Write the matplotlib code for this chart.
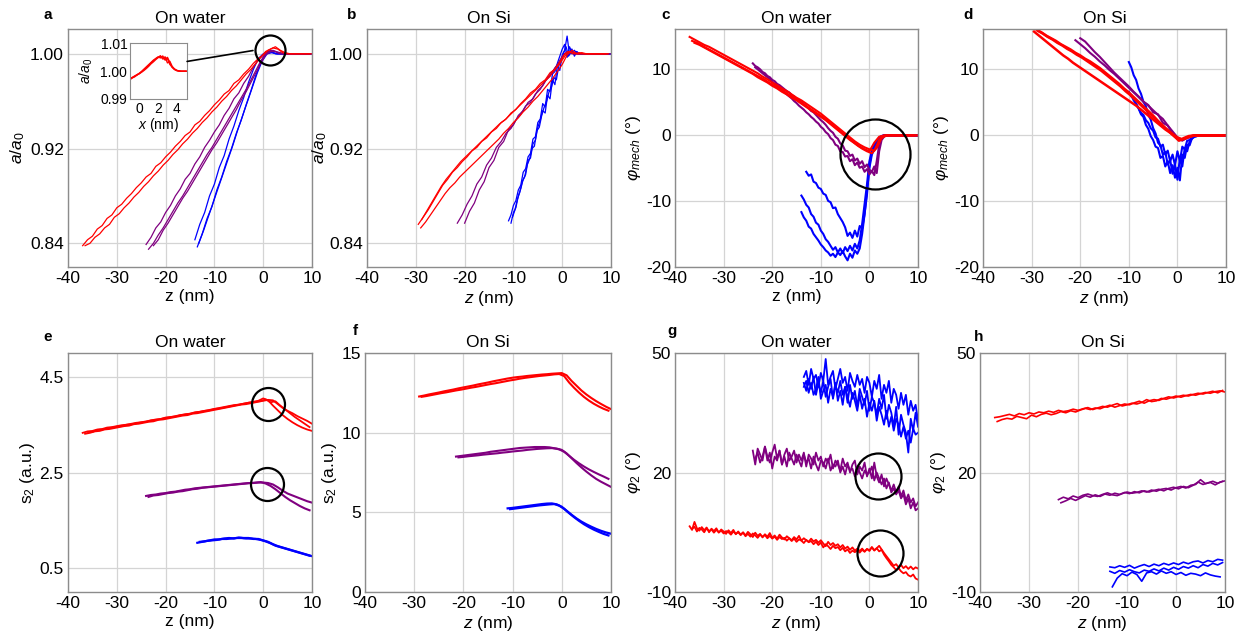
import numpy as np
import matplotlib
matplotlib.use('Agg')
import matplotlib.pyplot as plt
from matplotlib.patches import ConnectionPatch
from matplotlib.ticker import FormatStrFormatter

plt.rcParams['font.family'] = ['Liberation Sans', 'DejaVu Sans']
plt.rcParams['mathtext.fontset'] = 'custom'
plt.rcParams['mathtext.rm'] = 'Liberation Sans'
plt.rcParams['mathtext.it'] = 'Liberation Sans:italic'
plt.rcParams['axes.unicode_minus'] = False

RED = '#ff0000'
PURPLE = '#800080'
BLUE = '#0000ff'

# each trace: (z start, z step)

# a: a/a0 on water
a_red = [
    (-37.0, 1.0, [0.838,0.843,0.846,0.852,0.855,0.861,0.864,0.870,0.873,0.878,
                  0.882,0.887,0.891,0.896,0.899,0.905,0.908,0.913,0.917,0.922,
                  0.926,0.931,0.934,0.940,0.943,0.948,0.952,0.957,0.961,0.966,
                  0.969,0.975,0.978,0.983,0.987,0.992,0.996,0.999,1.003,1.005,
                  1.004,1.001,1.000,1.000,1.000,1.000,1.000,1.000]),
    (-36.5, 1.0, [0.838,0.840,0.845,0.848,0.853,0.856,0.862,0.865,0.870,0.874,
                  0.879,0.883,0.888,0.892,0.897,0.901,0.906,0.910,0.915,0.919,
                  0.924,0.928,0.933,0.937,0.942,0.946,0.951,0.955,0.960,0.964,
                  0.969,0.973,0.978,0.983,0.987,0.992,0.997,1.002,1.004,1.006,
                  1.003,1.001,1.000,1.000,1.000,1.000,1.000]),
]
a_purple = [
    (-24.0, 1.0, [0.839,0.845,0.853,0.858,0.866,0.872,0.880,0.886,0.894,0.899,
                  0.907,0.913,0.921,0.927,0.934,0.940,0.948,0.954,0.962,0.967,
                  0.975,0.981,0.989,0.995,0.999,1.002,1.003,1.001,1.000,1.000,
                  1.000,1.000,1.000,1.000,1.000]),
    (-23.5, 1.0, [0.835,0.840,0.847,0.853,0.860,0.867,0.874,0.880,0.887,0.894,
                  0.901,0.908,0.915,0.921,0.928,0.935,0.942,0.949,0.956,0.963,
                  0.970,0.978,0.986,0.994,1.000,1.003,1.002,1.000,1.000,1.000,
                  1.000,1.000,1.000,1.000]),
    (-22.5, 1.0, [0.838,0.843,0.851,0.857,0.864,0.871,0.878,0.884,0.891,0.898,
                  0.905,0.912,0.919,0.925,0.932,0.939,0.946,0.953,0.961,0.968,
                  0.976,0.984,0.992,0.999,1.002,1.002,1.001,1.000,1.000,1.000,
                  1.000,1.000,1.000]),
]
a_blue = [
    (-14.0, 1.0, [0.843,0.856,0.866,0.880,0.890,0.904,0.914,0.928,0.939,0.952,
                  0.963,0.976,0.987,0.996,1.000,1.002,1.001,1.000,1.000,1.000,
                  1.000,1.000,1.000,1.000,1.000]),
    (-13.5, 1.0, [0.837,0.848,0.861,0.871,0.885,0.896,0.909,0.920,0.933,0.944,
                  0.957,0.969,0.982,0.993,1.001,1.002,1.000,1.000,1.000,1.000,
                  1.000,1.000,1.000,1.000]),
    (-13.2, 1.0, [0.840,0.851,0.863,0.875,0.887,0.899,0.911,0.923,0.936,0.948,
                  0.960,0.972,0.984,0.994,1.000,1.001,1.000,1.000,1.000,1.000,
                  1.000,1.000,1.000,1.000]),
]
inset_red = [
    (-1.0, 0.25, [0.9972,0.9977,0.9982,0.9986,0.9992,0.9998,1.0006,1.0014,1.0022,1.0030,
                  1.0038,1.0046,1.0052,1.0048,1.0055,1.0040,1.0046,1.0025,1.0015,1.0008,
                  1.0003,1.0001,1.0000,1.0000,1.0000]),
    (-1.0, 0.25, [0.9970,0.9976,0.9980,0.9987,0.9993,1.0000,1.0008,1.0016,1.0024,1.0032,
                  1.0040,1.0045,1.0050,1.0056,1.0044,1.0052,1.0030,1.0036,1.0018,1.0008,
                  1.0003,1.0001,1.0000,1.0000,1.0000]),
    (-1.0, 0.25, [0.9974,0.9978,0.9983,0.9988,0.9991,0.9997,1.0003,1.0010,1.0018,1.0027,
                  1.0034,1.0042,1.0049,1.0053,1.0047,1.0043,1.0050,1.0032,1.0014,1.0006,
                  1.0002,1.0000,1.0000,1.0000,1.0000]),
]

# b: a/a0 on Si
b_red = [
    (-29.5, 1.0, [0.856,0.862,0.868,0.875,0.882,0.889,0.894,0.900,0.904,0.909,
                  0.913,0.918,0.921,0.926,0.929,0.934,0.937,0.942,0.945,0.950,
                  0.953,0.958,0.962,0.967,0.970,0.975,0.978,0.984,0.987,0.993,
                  1.000,1.002,1.000,1.001,1.000,1.000,1.000,1.000,1.000,1.000]),
    (-29.0, 1.0, [0.853,0.858,0.864,0.870,0.876,0.882,0.887,0.891,0.896,0.900,
                  0.904,0.908,0.912,0.916,0.920,0.924,0.928,0.933,0.937,0.942,
                  0.946,0.951,0.955,0.960,0.964,0.969,0.974,0.979,0.985,0.991,
                  0.999,1.003,1.000,1.001,1.000,1.000,1.000,1.000,1.000]),
    (-28.8, 1.0, [0.860,0.867,0.874,0.881,0.888,0.894,0.899,0.904,0.909,0.913,
                  0.917,0.921,0.925,0.929,0.933,0.937,0.941,0.944,0.948,0.952,
                  0.956,0.960,0.964,0.968,0.972,0.976,0.980,0.985,0.990,0.996,
                  1.002,1.001,1.000,1.000,1.000,1.000,1.000,1.000,1.000]),
]
b_purple = [
    (-21.5, 1.0, [0.857,0.864,0.873,0.880,0.890,0.896,0.906,0.912,0.921,0.926,
                  0.933,0.937,0.944,0.949,0.956,0.959,0.966,0.970,0.977,0.981,
                  0.988,0.993,1.000,1.001,1.000,1.000,1.000,1.000,1.000,1.000,
                  1.000,1.000]),
    (-20.0, 1.0, [0.857,0.867,0.874,0.885,0.892,0.904,0.910,0.921,0.926,0.936,
                  0.940,0.948,0.952,0.959,0.962,0.969,0.973,0.980,0.985,0.991,
                  0.998,1.002,1.000,1.000,1.000,1.000,1.000,1.000,1.000,1.000,
                  1.000]),
]
b_blue = [
    (-11.0, 0.5, [0.859,0.864,0.872,0.876,0.885,0.889,0.900,0.903,0.913,0.916,
                  0.928,0.930,0.942,0.945,0.958,0.955,0.970,0.968,0.983,0.985,
                  0.992,0.998,1.004,1.008,0.997,1.006,1.001,1.003,1.000,1.000,
                  1.000,1.000,1.000,1.000,1.000,1.000,1.000,1.000,1.000,1.000,
                  1.000,1.000,1.000]),
    (-10.5, 0.5, [0.857,0.866,0.870,0.880,0.886,0.894,0.898,0.910,0.912,0.924,
                  0.927,0.938,0.944,0.952,0.950,0.965,0.962,0.978,0.974,0.990,
                  0.986,0.999,1.003,1.015,0.999,1.004,0.998,1.002,1.000,1.000,
                  1.000,1.000,1.000,1.000,1.000,1.000,1.000,1.000,1.000,1.000,
                  1.000,1.000]),
    (-10.2, 0.5, [0.862,0.868,0.877,0.883,0.892,0.896,0.906,0.911,0.920,0.922,
                  0.935,0.938,0.948,0.955,0.960,0.968,0.972,0.980,0.978,0.990,
                  0.994,1.001,1.006,0.998,1.004,1.000,1.002,1.000,1.000,1.000,
                  1.000,1.000,1.000,1.000,1.000,1.000,1.000,1.000,1.000,1.000,
                  1.000]),
]

# c: phi_mech on water
c_red = [
    (-37.0, 1.0, [14.8,14.4,14.0,13.6,13.3,12.9,12.5,12.1,11.7,11.3,
                  10.9,10.5,10.1,9.7,9.3,8.8,8.4,7.9,7.5,7.0,
                  6.6,6.1,5.6,5.2,4.7,4.2,3.7,3.2,2.6,2.0,
                  1.4,0.8,0.2,-0.4,-1.0,-1.5,-1.9,-2.2,-2.4,-0.8,
                  -0.1,-0.1,-0.1,-0.1,-0.1,-0.1,-0.1,-0.1]),
    (-36.5, 1.0, [14.2,13.9,13.5,13.1,12.7,12.3,11.9,11.5,11.1,10.7,
                  10.3,9.9,9.5,9.1,8.7,8.3,7.8,7.4,6.9,6.5,
                  6.0,5.6,5.1,4.6,4.1,3.6,3.1,2.6,2.0,1.4,
                  0.8,0.2,-0.4,-1.0,-1.6,-2.1,-2.5,-2.8,-2.0,-0.5,
                  -0.1,-0.1,-0.1,-0.1,-0.1,-0.1,-0.1]),
    (-36.0, 1.0, [13.9,13.6,13.2,12.8,12.4,12.0,11.6,11.2,10.8,10.4,
                  10.0,9.6,9.2,8.7,8.3,7.9,7.4,7.0,6.5,6.1,
                  5.6,5.2,4.7,4.2,3.7,3.2,2.7,2.2,1.6,1.0,
                  0.4,-0.2,-0.8,-1.3,-1.8,-2.2,-2.5,-1.2,-0.3,-0.1,
                  -0.1,-0.1,-0.1,-0.1,-0.1,-0.1]),
]
c_purple = [
    (-24.0, 0.5, [10.8,10.4,10.2,9.9,9.5,9.3,8.9,8.7,8.3,8.1,
                  7.7,7.5,7.2,6.9,6.6,6.4,6.0,5.8,5.4,5.2,
                  4.9,4.6,4.3,4.0,3.6,3.4,3.0,2.6,2.2,1.9,
                  1.5,1.0,0.6,0.3,-0.3,-0.6,-1.3,-1.6,-2.4,-2.5,
                  -3.2,-3.0,-3.9,-3.6,-4.4,-4.0,-4.9,-4.5,-5.3,-5.6,
                  -4.8,-5.8,-2.5,-0.8,-0.3,-0.1,-0.1,-0.1,-0.1,-0.1,
                  -0.1,-0.1,-0.1,-0.1,-0.1,-0.1,-0.1,-0.1,-0.1]),
    (-23.5, 0.5, [10.2,9.9,9.6,9.3,9.0,8.7,8.4,8.0,7.7,7.4,
                  7.1,6.8,6.4,6.1,5.8,5.5,5.1,4.8,4.4,4.1,
                  3.8,3.4,3.1,2.7,2.4,2.0,1.7,1.2,0.9,0.4,
                  0.1,-0.5,-0.8,-1.5,-1.7,-2.5,-2.6,-3.3,-3.2,-4.0,
                  -3.7,-4.6,-4.2,-5.0,-4.8,-5.6,-5.2,-6.0,-5.5,
                  -6.1,-4.0,-1.5,-0.4,-0.2,-0.1,-0.1,-0.1,-0.1,
                  -0.1,-0.1,-0.1,-0.1,-0.1,-0.1,-0.1,-0.1,-0.1,-0.1]),
]
c_blue = [
    (-13.0, 0.5, [-5.6,-6.2,-6.0,-7.1,-7.3,-8.0,-8.2,-8.9,-9.1,-10.0,
                  -10.2,-11.1,-11.0,-12.0,-12.6,-13.2,-14.0,-15.3,-14.8,-15.6,
                  -14.5,-15.4,-13.8,-14.2,-12.0,-9.0,-4.5,-2.6,-2.0,-1.2,
                  -0.6,-0.2,-0.1,-0.1,-0.1,-0.1,-0.1,-0.1,-0.1,-0.1,
                  -0.1,-0.1,-0.1,-0.1,-0.1,-0.1,-0.1]),
    (-14.0, 0.5, [-9.2,-9.8,-10.6,-11.0,-12.0,-12.4,-13.3,-13.6,-14.5,-15.0,
                  -15.8,-16.2,-16.8,-17.4,-17.0,-17.8,-17.2,-17.9,-17.0,-17.6,
                  -16.8,-17.5,-16.5,-17.2,-16.0,-13.5,-10.5,-7.5,-4.0,-2.4,
                  -1.6,-1.0,-0.5,-0.2,-0.1,-0.1,-0.1,-0.1,-0.1,-0.1,
                  -0.1,-0.1,-0.1,-0.1,-0.1,-0.1,-0.1,-0.1,-0.1]),
    (-14.0, 0.5, [-11.7,-12.5,-13.0,-13.9,-14.2,-15.0,-15.5,-16.0,-16.6,-17.0,
                  -17.5,-17.8,-18.3,-18.0,-18.5,-17.8,-18.2,-17.6,-18.4,-19.0,
                  -18.0,-18.6,-17.5,-18.0,-17.2,-15.0,-12.0,-8.5,-5.0,-3.0,
                  -2.2,-1.4,-0.7,-0.3,-0.1,-0.1,-0.1,-0.1,-0.1,-0.1,
                  -0.1,-0.1,-0.1,-0.1,-0.1,-0.1,-0.1,-0.1,-0.1]),
]

# d: phi_mech on Si
d_red = [
    (-29.0, 1.0, [15.9,15.5,15.0,14.6,14.2,13.7,13.3,12.9,12.4,12.0,
                  11.5,11.1,10.6,10.1,9.5,8.9,8.3,7.7,7.0,6.4,
                  5.7,5.0,4.3,3.6,2.9,2.1,1.4,0.7,0.1,-0.4,
                  -0.7,-0.4,-0.2,-0.1,-0.1,-0.1,-0.1,-0.1,-0.1,-0.1]),
    (-29.5, 1.0, [15.6,15.0,14.4,13.8,13.2,12.6,12.0,11.5,10.9,10.4,
                  9.9,9.4,8.9,8.4,7.9,7.4,6.9,6.4,5.9,5.4,
                  4.9,4.4,3.8,3.2,2.6,2.0,1.4,0.8,0.3,-0.3,
                  -0.8,-0.6,-0.3,-0.1,-0.1,-0.1,-0.1,-0.1,-0.1,-0.1]),
    (-28.7, 1.0, [15.7,15.3,14.8,14.4,13.9,13.5,13.0,12.6,12.1,11.7,
                  11.2,10.7,10.2,9.7,9.1,8.5,7.9,7.3,6.6,6.0,
                  5.3,4.6,3.9,3.2,2.5,1.8,1.1,0.5,-0.2,-0.9,
                  -0.5,-0.2,-0.1,-0.1,-0.1,-0.1,-0.1,-0.1,-0.1]),
]
d_purple = [
    (-21.0, 1.0, [14.3,13.7,13.1,12.4,11.8,11.1,10.5,9.8,9.2,8.5,
                  7.8,7.1,6.4,5.7,5.0,4.4,3.7,3.0,2.4,1.4,
                  0.5,-0.4,-0.8,-0.5,-0.2,-0.1,-0.1,-0.1,-0.1,-0.1,
                  -0.1,-0.1]),
    (-20.0, 1.0, [14.6,14.1,13.3,12.5,11.8,11.0,10.2,9.4,8.7,8.0,
                  7.3,6.5,5.8,5.0,4.5,3.4,3.1,1.8,1.4,0.2,
                  -0.6,-0.9,-0.4,-0.2,-0.1,-0.1,-0.1,-0.1,-0.1,-0.1,
                  -0.1]),
]
d_blue = [
    (-10.0, 0.5, [11.0,10.2,9.0,8.3,7.0,6.2,5.0,4.3,3.0,2.3,
                  1.0,0.2,-1.2,-1.6,-3.0,-2.6,-4.5,-3.8,-5.9,-4.5,
                  -6.8,-3.5,-4.8,-2.0,-2.5,-1.0,-0.6,-0.3,-0.2,-0.1,
                  -0.1,-0.1,-0.1,-0.1,-0.1,-0.1,-0.1,-0.1,-0.1,-0.1,
                  -0.1]),
    (-10.0, 0.5, [6.5,5.8,5.5,4.6,4.0,3.1,2.7,1.5,0.9,-0.2,
                  -0.8,-1.8,-2.0,-3.5,-3.2,-4.8,-4.0,-5.8,-4.6,-6.5,
                  -5.0,-6.9,-3.0,-3.5,-1.5,-1.6,-0.5,-0.3,-0.2,-0.1,
                  -0.1,-0.1,-0.1,-0.1,-0.1,-0.1,-0.1,-0.1,-0.1,-0.1,
                  -0.1]),
    (-9.5, 0.5, [6.0,5.2,4.7,4.0,3.3,3.0,2.2,1.8,1.0,0.6,
                 -0.4,-0.6,-1.8,-1.5,-3.0,-2.4,-4.0,-3.0,-4.6,-2.5,
                 -4.0,-1.8,-2.2,-0.9,-0.8,-0.3,-0.2,-0.1,-0.1,-0.1,
                 -0.1,-0.1,-0.1,-0.1,-0.1,-0.1,-0.1,-0.1,-0.1,-0.1]),
]

# e: s2 on water
e_red = [
    (-37.0, 1.0, [3.33,3.36,3.37,3.40,3.41,3.44,3.45,3.47,3.49,3.50,
                  3.52,3.54,3.55,3.57,3.59,3.61,3.62,3.65,3.66,3.68,
                  3.70,3.72,3.73,3.76,3.77,3.79,3.81,3.83,3.85,3.87,
                  3.89,3.91,3.92,3.94,3.96,3.97,3.99,4.00,4.02,4.01,
                  3.93,3.85,3.79,3.74,3.68,3.63,3.58,3.52]),
    (-36.5, 1.0, [3.31,3.33,3.36,3.37,3.40,3.41,3.43,3.45,3.47,3.48,
                  3.51,3.52,3.54,3.56,3.57,3.60,3.61,3.63,3.65,3.67,
                  3.69,3.70,3.73,3.74,3.76,3.78,3.80,3.82,3.84,3.86,
                  3.88,3.90,3.92,3.93,3.95,3.97,3.99,4.03,3.97,3.99,
                  3.90,3.82,3.74,3.66,3.59,3.52,3.45]),
    (-36.0, 1.0, [3.35,3.35,3.39,3.40,3.42,3.44,3.46,3.47,3.50,3.51,
                  3.53,3.55,3.56,3.59,3.60,3.62,3.64,3.66,3.67,3.70,
                  3.71,3.73,3.75,3.77,3.79,3.80,3.83,3.84,3.86,3.88,
                  3.90,3.92,3.94,3.96,3.98,4.00,4.05,4.01,3.90,3.80,
                  3.70,3.62,3.55,3.49,3.44,3.40,3.37]),
]
e_purple = [
    (-24.0, 1.0, [2.01,2.03,2.04,2.06,2.07,2.09,2.10,2.12,2.14,2.15,
                  2.17,2.18,2.19,2.20,2.21,2.22,2.23,2.24,2.25,2.26,
                  2.27,2.28,2.28,2.29,2.29,2.28,2.25,2.19,2.12,2.06,
                  2.02,1.98,1.94,1.90,1.87]),
    (-23.5, 1.0, [1.99,2.02,2.03,2.05,2.07,2.08,2.10,2.11,2.13,2.15,
                  2.16,2.18,2.19,2.20,2.21,2.22,2.23,2.24,2.25,2.26,
                  2.27,2.28,2.29,2.30,2.27,2.22,2.15,2.07,1.99,1.92,
                  1.86,1.80,1.75,1.71]),
]
e_blue = [
    (-13.5, 1.0, [1.03,1.05,1.07,1.08,1.09,1.11,1.11,1.12,1.13,1.13,
                  1.12,1.12,1.11,1.09,1.06,1.02,0.97,0.94,0.91,0.88,
                  0.85,0.82,0.79,0.76]),
    (-13.0, 1.0, [1.05,1.06,1.08,1.10,1.10,1.12,1.13,1.12,1.14,1.13,
                  1.13,1.11,1.11,1.08,1.05,1.00,0.96,0.93,0.90,0.87,
                  0.84,0.81,0.78,0.75]),
]

# f: s2 on Si
f_red = [
    (-29.0, 1.0, [12.27,12.33,12.40,12.46,12.52,12.59,12.65,12.71,12.78,12.84,
                  12.90,12.96,13.03,13.09,13.15,13.22,13.28,13.34,13.40,13.45,
                  13.49,13.52,13.56,13.59,13.62,13.65,13.67,13.70,13.72,13.74,
                  13.60,13.25,12.95,12.65,12.40,12.18,11.98,11.80,11.63,11.48]),
    (-28.5, 1.0, [12.25,12.30,12.36,12.42,12.48,12.53,12.59,12.65,12.70,12.76,
                  12.82,12.87,12.93,12.99,13.05,13.10,13.16,13.22,13.28,13.33,
                  13.39,13.44,13.48,13.52,13.56,13.59,13.62,13.66,13.68,13.55,
                  13.15,12.82,12.52,12.25,12.02,11.82,11.65,11.50,11.38]),
]
f_purple = [
    (-21.5, 1.0, [8.50,8.54,8.58,8.62,8.66,8.70,8.74,8.80,8.84,8.88,
                  8.92,8.96,9.00,9.04,9.06,9.08,9.10,9.10,9.10,9.08,
                  9.02,8.95,8.80,8.55,8.30,8.08,7.88,7.70,7.54,7.39,
                  7.25,7.10]),
    (-21.0, 1.0, [8.45,8.48,8.52,8.55,8.58,8.62,8.65,8.68,8.71,8.75,
                  8.78,8.82,8.85,8.88,8.92,8.95,8.98,9.00,9.02,9.03,
                  9.00,8.92,8.70,8.40,8.10,7.82,7.56,7.32,7.10,6.92,
                  6.76,6.60]),
]
f_blue = [
    (-11.0, 1.0, [5.25,5.28,5.32,5.36,5.40,5.44,5.48,5.52,5.55,5.56,
                  5.50,5.35,5.10,4.85,4.62,4.42,4.25,4.10,3.96,3.84,
                  3.74,3.66]),
    (-10.5, 1.0, [5.20,5.24,5.28,5.32,5.36,5.40,5.44,5.47,5.50,5.52,
                  5.42,5.22,4.95,4.70,4.47,4.26,4.08,3.92,3.78,3.65,
                  3.55]),
]

# g: phi2 on water
g_red = [
    (-37.0, 0.5, [6.5,5.6,7.6,6.0,5.4,6.3,5.5,6.2,5.0,5.9,
                  5.3,6.0,4.9,5.7,5.2,4.6,5.5,4.8,5.6,4.5,
                  5.2,4.4,5.0,4.2,5.1,4.5,3.8,4.9,4.1,4.6,
                  3.7,4.5,3.9,4.8,3.6,4.2,3.4,4.4,3.7,3.2,
                  4.0,3.5,3.0,3.8,3.2,4.1,2.9,3.5,3.0,2.6,
                  3.4,2.7,3.1,2.4,3.0,2.2,1.5,2.6,1.8,2.3,
                  1.6,2.0,1.2,1.8,0.9,1.4,0.6,1.2,0.4,0.9,
                  0.3,0.9,0.2,0.8,0.5,1.2,0.4,1.0,1.6,0.7,
                  -0.2,-1.0,-1.8,-2.6,-3.4,-3.0,-3.8,-3.2,-4.0,-3.5,
                  -4.2,-3.6,-4.3,-3.8,-4.1]),
    (-36.5, 0.5, [5.8,6.4,5.2,6.1,5.7,5.0,6.0,5.3,5.7,4.9,
                  5.6,5.0,5.4,4.7,5.3,5.0,4.4,5.2,4.6,5.0,
                  4.3,4.9,4.0,4.6,3.9,4.7,4.2,3.6,4.4,3.9,
                  4.3,3.5,4.1,3.4,3.9,3.1,3.8,3.3,3.6,2.9,
                  3.5,2.8,3.4,2.6,3.2,2.9,2.3,3.1,2.5,2.8,
                  2.0,2.6,1.8,2.4,1.2,2.0,1.5,0.8,1.6,1.0,
                  1.3,0.5,1.1,0.2,0.7,-0.2,0.4,0.0,0.5,-0.1,
                  0.6,0.1,0.8,0.3,1.3,0.5,1.0,0.2,0.6,-0.6,
                  -1.5,-2.3,-3.2,-3.8,-4.5,-4.0,-4.8,-5.3,-5.0,-5.8,
                  -6.1,-5.6,-6.6,-6.9]),
]
g_purple = [
    (-24.0, 0.5, [25.5,22.0,26.0,24.5,23.0,26.5,24.0,22.5,25.0,27.0,
                  23.5,25.5,22.0,24.5,26.0,23.0,24.0,25.5,22.5,24.5,
                  23.0,25.0,21.5,24.5,23.5,22.0,25.0,23.0,24.0,21.5,
                  23.5,22.5,24.5,21.0,23.0,22.0,20.5,23.5,21.5,22.5,
                  20.0,22.0,23.0,19.5,21.5,20.5,22.5,19.0,
                  21.0,18.5,22.5,19.0,17.5,19.5,16.5,18.5,17.0,15.5,
                  17.0,15.0,16.5,14.0,15.5,13.0,14.5,12.5,13.5,11.5,12.5]),
    (-23.5, 0.5, [23.5,25.0,22.5,24.0,26.5,23.0,25.0,21.0,24.0,23.0,
                  25.5,22.0,24.0,21.5,25.0,23.5,22.0,24.5,23.0,21.5,
                  24.5,22.5,23.5,21.0,24.0,22.0,20.5,23.0,22.5,21.0,
                  23.5,20.5,22.0,21.5,23.0,20.0,21.5,19.5,22.0,20.5,
                  21.0,19.0,21.5,20.0,18.5,20.5,19.5,
                  20.0,21.5,18.0,20.0,18.5,17.0,18.5,16.0,17.5,15.0,
                  16.0,14.5,15.5,13.5,14.5,12.0,13.5,11.0,12.5,10.5,11.0]),
]
g_blue = [
    (-13.5, 0.5, [44.0,45.5,42.0,46.0,43.5,44.5,41.5,45.0,43.0,48.5,
                  42.0,44.0,45.5,41.0,43.5,46.0,42.5,44.0,40.5,45.0,
                  43.0,41.5,44.5,42.0,43.5,40.0,44.0,42.5,39.0,43.0,
                  41.0,44.5,38.5,42.0,40.0,43.0,37.5,41.0,39.5,36.0,
                  40.0,37.0,39.5,34.5,38.0,35.5,37.0,33.0]),
    (-13.5, 0.5, [42.5,40.5,43.5,41.0,44.0,39.5,42.5,40.0,43.0,39.0,
                  41.5,43.5,38.5,42.0,40.0,43.0,39.5,41.5,37.5,42.0,
                  38.5,40.5,36.5,41.0,39.0,37.0,40.5,35.5,39.0,37.5,
                  34.5,38.5,36.0,39.5,33.5,37.0,35.0,31.5,36.5,29.5,
                  34.5,32.0,30.0,25.0,33.5,30.5,35.0,31.5]),
    (-13.5, 0.5, [41.5,43.0,40.0,42.5,39.5,41.0,44.0,38.5,40.5,42.0,
                  37.5,41.0,39.0,42.5,38.0,40.5,37.0,41.5,39.0,36.5,
                  40.0,38.0,35.5,39.5,36.0,38.5,34.0,37.5,35.5,38.0,
                  33.0,36.5,34.5,32.0,35.5,31.5,34.0,30.5,33.5,32.0,
                  29.0,31.5,28.5,30.5,27.5,31.0,29.5,30.0]),
]

# h: phi2 on Si
h_red = [
    (-37.0, 1.0, [33.8,34.0,34.3,34.6,34.2,34.8,34.5,35.0,34.7,35.2,
                  35.0,35.4,35.1,35.6,35.3,35.5,35.9,35.6,36.0,36.3,
                  35.8,36.2,36.6,36.4,36.9,37.3,36.7,37.0,37.4,37.2,
                  37.6,38.3,37.8,38.0,38.6,38.4,38.8,39.2,38.9,39.3,
                  39.6,39.4,39.8,40.1,39.9,40.3,40.5,40.2]),
    (-36.5, 1.0, [32.8,33.3,33.6,33.4,34.1,33.8,33.5,34.4,34.0,34.6,
                  34.9,34.5,34.8,35.3,35.0,35.5,35.2,35.7,36.1,35.8,
                  36.2,36.0,36.5,36.9,36.4,36.8,37.2,37.0,37.5,37.9,
                  37.4,38.0,38.3,38.1,38.6,39.0,38.7,39.1,39.4,39.2,
                  39.6,39.9,39.7,40.1,40.4,40.0,40.6]),
]
h_purple = [
    (-24.0, 1.0, [13.2,13.8,13.4,14.1,13.7,14.3,14.6,14.2,14.0,14.5,
                  14.9,14.4,14.2,14.7,15.1,14.8,15.0,15.4,15.1,15.6,
                  15.3,15.8,16.0,15.6,16.2,16.5,16.1,16.8,17.0,18.2,
                  17.2,17.5,16.9,17.6,17.9]),
    (-23.5, 1.0, [12.4,12.9,13.5,13.0,13.6,14.2,13.8,14.4,14.0,14.6,
                  14.3,14.8,14.5,15.0,14.7,15.2,14.9,15.4,15.1,15.5,
                  15.8,15.4,16.0,16.3,15.9,16.5,16.2,16.8,17.6,17.0,
                  17.4,17.8,17.3,17.8]),
]
h_blue = [
    (-13.5, 1.0, [-3.7,-3.9,-3.4,-3.8,-3.3,-4.0,-3.5,-3.1,-3.6,-3.0,
                  -3.4,-2.8,-3.2,-2.7,-3.1,-2.5,-2.9,-2.4,-2.2,-2.7,
                  -2.1,-2.4,-1.8,-2.0]),
    (-13.5, 1.0, [-4.8,-5.3,-4.6,-5.0,-4.4,-4.9,-5.2,-4.5,-4.8,-4.2,
                  -4.7,-4.0,-4.5,-3.8,-4.3,-3.6,-4.0,-3.4,-3.9,-3.1,
                  -3.5,-2.8,-3.2,-2.6]),
    (-13.0, 1.0, [-8.7,-6.5,-5.4,-5.9,-5.0,-5.6,-7.3,-5.2,-4.9,-5.5,
                  -4.7,-5.3,-4.9,-5.6,-5.1,-5.8,-5.3,-5.5,-5.9,-5.2,
                  -5.7,-6.0,-6.2]),
]

# circled regions (z, value, diameter in px)
a_circle = [(1.4, 1.0034, 30)]
c_circle = [(1.1, -2.9, 70)]
e_circle = [(1.0, 3.94, 33), (0.7, 2.27, 33)]
g_circle = [(1.8, 19.2, 46), (2.2, -0.3, 46)]

FS = 12.5


def draw(ax, traces, color, lw):
    for z0, dz, vals in traces:
        z = z0 + dz * np.arange(len(vals))
        ax.plot(z, vals, color=color, lw=lw, solid_joinstyle='round')


def circles(ax, items):
    for cx, cy, d in items:
        ax.plot([cx], [cy], 'o', ms=d * 0.72, mfc='none', mec='black',
                mew=1.6, clip_on=False, zorder=5)


def style(ax, ylim, yticks, fmt, ylabel, title, xlabel):
    ax.set_xlim(-40, 10)
    ax.set_xticks([-40, -30, -20, -10, 0, 10])
    ax.set_ylim(*ylim)
    ax.set_yticks(yticks)
    ax.yaxis.set_major_formatter(FormatStrFormatter(fmt))
    ax.grid(True, color='#d4d4d4', lw=0.9)
    ax.set_axisbelow(True)
    ax.tick_params(length=0, labelsize=FS, pad=3)
    for s in ax.spines.values():
        s.set_color('#8c8c8c')
        s.set_linewidth(1.0)
    ax.set_title(title, fontsize=FS, pad=4)
    ax.set_xlabel(xlabel, fontsize=FS, labelpad=2)
    ax.set_ylabel(ylabel, fontsize=FS, labelpad=2)


fig = plt.figure(figsize=(12.48, 6.41), dpi=100)

top_b, top_h = 0.5835, 0.3713
bot_b, bot_h = 0.0764, 0.3729
ax_a = fig.add_axes([0.0545, top_b, 0.1955, top_h])
ax_b = fig.add_axes([0.2941, top_b, 0.1955, top_h])
ax_c = fig.add_axes([0.5409, top_b, 0.1947, top_h])
ax_d = fig.add_axes([0.7877, top_b, 0.1947, top_h])
ax_e = fig.add_axes([0.0545, bot_b, 0.1955, bot_h])
ax_f = fig.add_axes([0.2925, bot_b, 0.1970, bot_h])
ax_g = fig.add_axes([0.5409, bot_b, 0.1947, bot_h])
ax_h = fig.add_axes([0.7853, bot_b, 0.1963, bot_h])

# a
draw(ax_a, a_blue, BLUE, 0.9)
draw(ax_a, a_purple, PURPLE, 0.9)
draw(ax_a, a_red, RED, 0.9)
circles(ax_a, a_circle)
style(ax_a, (0.82, 1.021), [0.84, 0.92, 1.00], '%.2f', r'$a/a_0$', 'On water', 'z (nm)')

# b
draw(ax_b, b_blue, BLUE, 0.9)
draw(ax_b, b_purple, PURPLE, 0.9)
draw(ax_b, b_red, RED, 0.9)
style(ax_b, (0.82, 1.021), [0.84, 0.92, 1.00], '%.2f', r'$a/a_0$', 'On Si', r'$z$ (nm)')
ax_b.yaxis.labelpad = 0

# c
draw(ax_c, c_blue, BLUE, 1.5)
draw(ax_c, c_purple, PURPLE, 1.5)
draw(ax_c, c_red, RED, 1.5)
circles(ax_c, c_circle)
style(ax_c, (-20, 16), [-20, -10, 0, 10], '%g', r'$\varphi_{mech}$ (°)', 'On water', 'z (nm)')

# d
draw(ax_d, d_blue, BLUE, 1.5)
draw(ax_d, d_purple, PURPLE, 1.5)
draw(ax_d, d_red, RED, 1.8)
style(ax_d, (-20, 16), [-20, -10, 0, 10], '%g', r'$\varphi_{mech}$ (°)', 'On Si', r'$z$ (nm)')

# e
draw(ax_e, e_blue, BLUE, 1.6)
draw(ax_e, e_purple, PURPLE, 1.5)
draw(ax_e, e_red, RED, 1.3)
circles(ax_e, e_circle)
style(ax_e, (0, 5), [0.5, 2.5, 4.5], '%.1f', r's$_2$ (a.u.)', 'On water', 'z (nm)')

# f
draw(ax_f, f_blue, BLUE, 1.6)
draw(ax_f, f_purple, PURPLE, 1.5)
draw(ax_f, f_red, RED, 1.5)
style(ax_f, (0, 15), [0, 5, 10, 15], '%g', r's$_2$ (a.u.)', 'On Si', r'$z$ (nm)')

# g
draw(ax_g, g_blue, BLUE, 1.3)
draw(ax_g, g_purple, PURPLE, 1.3)
draw(ax_g, g_red, RED, 1.3)
circles(ax_g, g_circle)
style(ax_g, (-10, 50), [-10, 20, 50], '%g', r'$\varphi_2$ (°)', 'On water', r'$z$ (nm)')

# h
draw(ax_h, h_blue, BLUE, 1.2)
draw(ax_h, h_purple, PURPLE, 1.2)
draw(ax_h, h_red, RED, 1.2)
style(ax_h, (-10, 50), [-10, 20, 50], '%g', r'$\varphi_2$ (°)', 'On Si', r'$z$ (nm)')

# inset of a
axins = fig.add_axes([0.1042, 0.8456, 0.0457, 0.0874])
draw(axins, inset_red, RED, 1.0)
axins.set_xlim(-1.0, 5.1)
axins.set_ylim(0.99, 1.0102)
axins.set_xticks([0, 2, 4])
axins.set_yticks([0.99, 1.00, 1.01])
axins.yaxis.set_major_formatter(FormatStrFormatter('%.2f'))
axins.tick_params(length=0, labelsize=10, pad=2)
for s in axins.spines.values():
    s.set_color('#8c8c8c')
axins.set_xlabel(r'$x$ (nm)', fontsize=10, labelpad=0)
axins.set_ylabel(r'$a/a_0$', fontsize=10, labelpad=4)
axins.set_facecolor('white')

con = ConnectionPatch(xyA=(1.0, 0.67), coordsA=axins.transAxes,
                      xyB=(-2.1, 1.0028), coordsB=ax_a.transData,
                      color='black', lw=1.2)
fig.add_artist(con)

# panel letters
letters = [('a', 0.035, 0.965), ('b', 0.278, 0.965), ('c', 0.530, 0.965), ('d', 0.772, 0.965),
           ('e', 0.035, 0.463), ('f', 0.283, 0.473), ('g', 0.535, 0.473), ('h', 0.780, 0.463)]
for t, x, y in letters:
    fig.text(x, y, t, fontsize=11, fontweight='bold', ha='left', va='bottom')

fig.savefig('out.png', dpi=100)
